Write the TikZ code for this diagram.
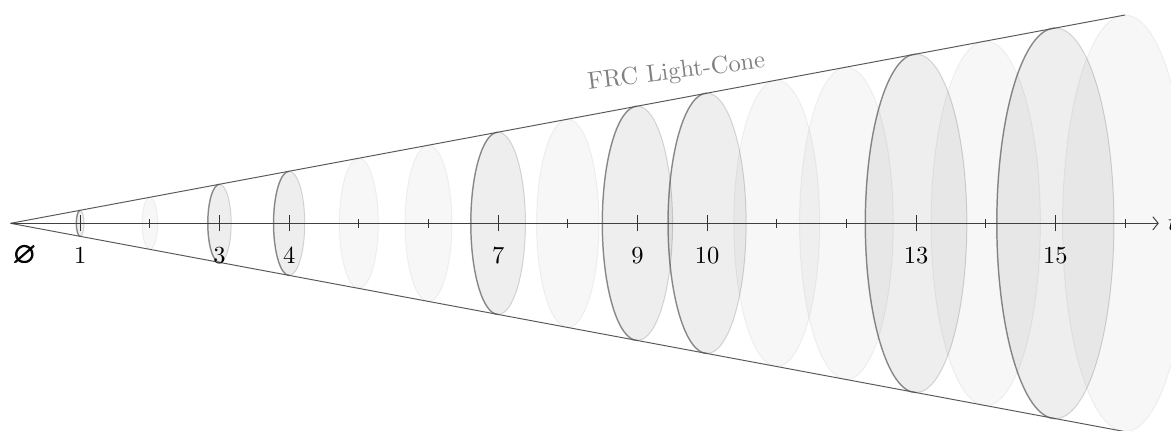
\documentclass[tikz,border=0pt]{standalone}
\usepackage{amsmath,amssymb}
\usetikzlibrary{arrows.meta,positioning,calc}
\newcommand{\conek}{0.1869}
\tikzset{
  cone/slab/.style={fill=black, fill opacity=0.03, draw=black, draw opacity=0.05, thin},
  cone/mark/.style={fill=black, fill opacity=0.065, draw=black, draw opacity=0.15, thin},
  cone/rim/.style={draw=black, draw opacity=0.36, semithick},
  cone/edge/.style={draw=black!65, thin},
  cone/axis/.style={draw=black!75, thin, -{Straight Barb[length=2.2pt,width=5.4pt]}},
  cone/tick/.style={draw=black!80, thin},
  cone/num/.style={inner sep=2pt},
  cone/title/.style={text=black!50, inner sep=0pt}
}
\begin{document}
\begin{tikzpicture}[x=1cm, y=1cm]
  \useasboundingbox (-0.151,-2.968) rectangle (16.66,3.206);
  % slices along the cone
  \foreach \n/\kind in {1/mark,2/slab,3/mark,4/mark,5/slab,6/slab,7/mark,8/slab,
                        9/mark,10/mark,11/slab,12/slab,13/mark,14/slab,15/mark,16/slab}{
    \pgfmathsetmacro{\ry}{\conek*\n}
    \pgfmathsetmacro{\rx}{0.3*\ry}
    \path[cone/\kind] (\n,0) ellipse [x radius=\rx, y radius=\ry];
  }
  % darker rims on the marked slices
  \foreach \n in {1,3,4,7,9,10,13,15}{
    \pgfmathsetmacro{\ry}{\conek*\n}
    \pgfmathsetmacro{\rx}{0.3*\ry}
    \draw[cone/rim] (\n,\ry) arc [start angle=90, end angle=270, x radius=\rx, y radius=\ry];
  }

  \coordinate (o) at (0,0);
  \coordinate (top) at (16,16*\conek);
  \coordinate (bot) at (16,-16*\conek);
  \coordinate (tip) at (16.485,0);
  \draw[cone/edge] (o) -- (top);
  \draw[cone/edge] (o) -- (bot);
  \draw[cone/axis] (o) -- (tip);
  \node[anchor=west, inner sep=3.6pt] (t) at (tip) {$t$};

  % ticks
  \foreach \n in {1,...,16}{
    \coordinate (t\n) at (\n,0);
    \draw[cone/tick] (\n,-0.065) -- (\n,0.065);
  }
  \foreach \n in {1,3,4,7,9,10,13,15}{
    \draw[cone/tick] (\n,-0.115) -- (\n,0.115);
    \node[cone/num, below=2.6mm of t\n] (n\n) {\n};
  }
  \node[cone/num, below=2.4mm of o, xshift=2.1mm] (empty) {\large$\pmb{\varnothing}$};

  \node[cone/title, rotate=7, anchor=base] (title) at (9.57,2.08) {FRC Light-Cone};
\end{tikzpicture}
\end{document}
